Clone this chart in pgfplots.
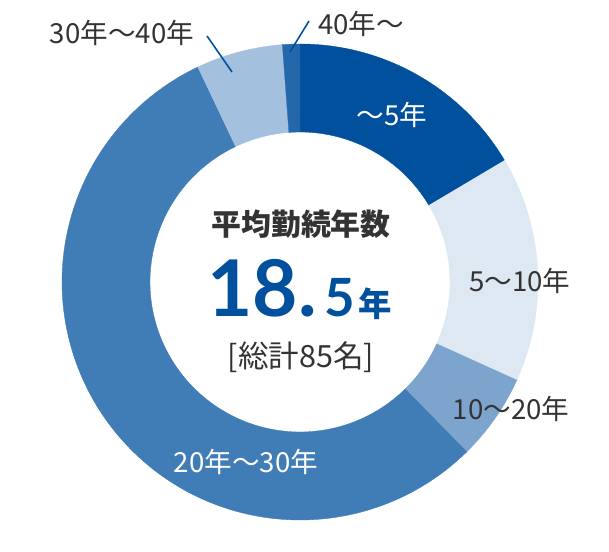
\documentclass[border=0pt]{standalone}
\usepackage{pgfplots}
\pgfplotsset{compat=1.18}
\usepackage{fontspec}
\setmainfont{Noto Sans CJK JP}
\newfontfamily\numfont{Lato}
\definecolor{cA}{HTML}{00509E}
\definecolor{cB}{HTML}{DEE8F2}
\definecolor{cC}{HTML}{7CA4CD}
\definecolor{cD}{HTML}{407CB5}
\definecolor{cE}{HTML}{A3C1DF}
\definecolor{cF}{HTML}{2467AB}
\definecolor{txt}{HTML}{333333}
% segment: start (cumulative count), count, colour; total 85 persons
\newcommand\seg[3]{%
  \fill[#3,draw=#3,line width=0.2pt]
    (axis cs:{300+238*sin(#1/85*360)},{269+238*cos(#1/85*360)})
    arc[start angle={90-#1/85*360}, end angle={90-(#1+#2)/85*360}, radius=4.76cm]
    -- (axis cs:{300+150*sin((#1+#2)/85*360)},{269+150*cos((#1+#2)/85*360)})
    arc[start angle={90-(#1+#2)/85*360}, end angle={90-#1/85*360}, radius=3cm]
    -- cycle;}
\begin{document}
\begin{tikzpicture}
\begin{axis}[scale only axis, width=12.18cm, height=11.02cm,
  xmin=0, xmax=609, ymin=0, ymax=551,
  hide axis, clip=false]
% counts: ~5年 14, 5~10年 13, 10~20年 5, 20年~30年 47, 30年~40年 5, 40年~ 1
\seg{0}{14}{cA}
\seg{14}{13}{cB}
\seg{27}{5}{cC}
\seg{32}{47}{cD}
\seg{79}{5}{cE}
\seg{84}{1}{cF}
\draw[cA, line width=0.9pt] (axis cs:290,499) -- (axis cs:309,530);
\draw[cA, line width=0.9pt] (axis cs:207,515) -- (axis cs:232,479);
\node[txt, font=\fontsize{15.7}{18}\selectfont] at (axis cs:361,527) {40年～};
\node[txt, font=\fontsize{15.7}{18}\selectfont] at (axis cs:122,518) {30年～40年};
\node[white, font=\fontsize{15.7}{18}\selectfont] at (axis cs:392,436) {～5年};
\node[txt, font=\fontsize{15.7}{18}\selectfont] at (axis cs:520,270) {5～10年};
\node[txt, font=\fontsize{15.7}{18}\selectfont] at (axis cs:511,142) {10～20年};
\node[white, font=\fontsize{15.7}{18}\selectfont] at (axis cs:246,89) {20年～30年};
\node[txt, font=\bfseries\fontsize{17}{20}\selectfont] at (axis cs:301,327) {平均勤続年数};
\node[cA, anchor=base west, inner sep=0pt] at (axis cs:207,234)
  {{\numfont\bfseries\fontsize{44.5}{45}\selectfont 18\hspace{0.0cm}.}%
   \hspace{0.16cm}{\numfont\bfseries\fontsize{30}{30}\selectfont 5}%
   \hspace{0.07cm}{\bfseries\fontsize{19}{19}\selectfont 年}};
\node[txt, font=\fontsize{17.4}{20}\selectfont] at (axis cs:301,194) {[総計85名]};
\end{axis}
\pgfresetboundingbox
\path (current axis.south west) rectangle (current axis.north east);
\end{tikzpicture}
\end{document}
